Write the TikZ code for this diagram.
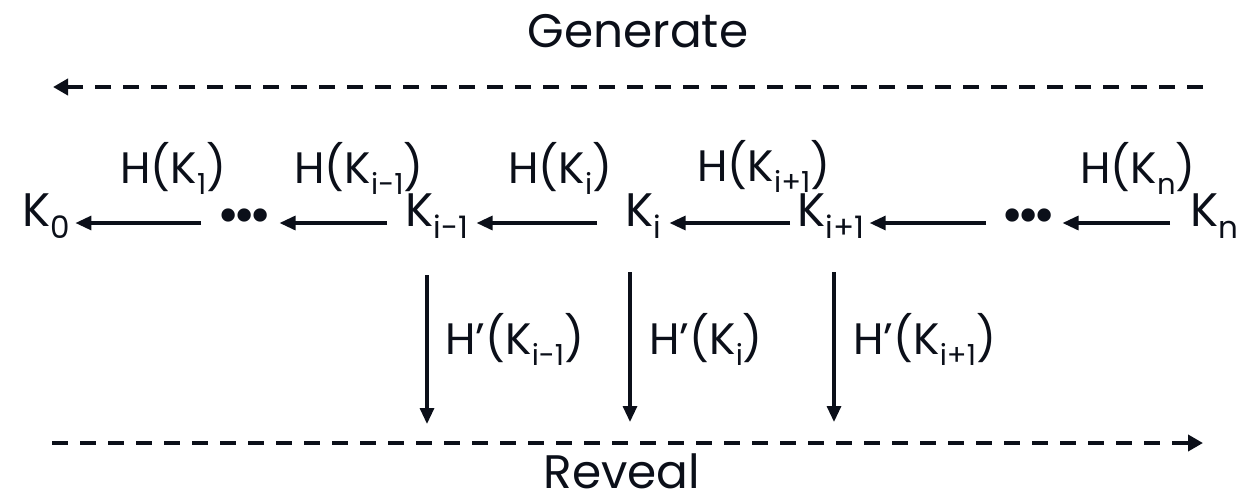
\documentclass[tikz,border=0pt]{standalone}
\usepackage{fontspec}
\setmainfont{Poppins}
\usetikzlibrary{arrows.meta,calc}
\definecolor{ink}{RGB}{11,15,25}
\newcommand{\lowsub}[1]{\raisebox{-6pt}{\fontsize{15.5}{18}\selectfont #1}}
\newcommand{\lsub}[1]{\raisebox{-5.5pt}{\fontsize{14.5}{17}\selectfont #1}}
\newcommand{\dotrow}{{\fontsize{27}{30}\selectfont •\kern-3pt•\kern-3pt•}}
\tikzset{
  txt/.style={inner sep=0pt, anchor=base west, text=ink, font=\fontsize{23.5}{28}\selectfont},
  lbl/.style={inner sep=0pt, anchor=base west, text=ink, font=\fontsize{22}{26}\selectfont},
  title/.style={inner sep=0pt, anchor=base, text=ink, font=\fontsize{23.5}{28}\selectfont},
  arr/.style={draw=ink, line width=1.6pt, -{Triangle[length=8pt,width=7pt]}},
  darr/.style={draw=ink, line width=1.9pt, dash pattern=on 8pt off 6pt, -{Triangle[length=7.5pt,width=8pt]}}
}
\begin{document}
\begin{tikzpicture}[x=0.5pt,y=-0.5pt]
\useasboundingbox (0,0) rectangle (1238,499);
% titles
\node[title] (gen) at (638,47) {Generate};
\node[title] (rev) at (622,488) {Reveal};
\coordinate (g1) at (1203,87);
\coordinate (g2) at (53,87);
\coordinate (r1) at (52,443);
\coordinate (r2) at (1203,443);
\draw[darr] (g1) -- (g2);
\draw[darr] (r1) -- (r2);
% main row
\node[txt] (K0)  at (22,226)  {K\lowsub{0}};
\node[txt] (d1)  at (217,233) {\dotrow};
\node[txt] (Ki1) at (405,226) {K\lowsub{i-1}};
\node[txt] (Ki)  at (625,226) {K\lowsub{i}};
\node[txt] (Kip) at (797,226) {K\lowsub{i+1}};
\node[txt] (d2)  at (1001,233){\dotrow};
\node[txt] (Kn)  at (1190,226){K\lowsub{n}};
\draw[arr] ($(d1.west |- K0.base)+(-16,-3)$) -- ($(K0.base east)+(5,-3)$);
\draw[arr] ($(Ki1.base west)+(-18,-3)$) -- ($(d1.east |- K0.base)+(7,-3)$);
\draw[arr] ($(Ki.base west)+(-28,-3)$) -- ($(Ki1.base east)+(8,-3)$);
\draw[arr] ($(Kip.base west)+(-7,-3)$) -- ($(Ki.base east)+(8,-3)$);
\draw[arr] ($(d2.west |- K0.base)+(-15,-3)$) -- ($(Kip.base east)+(5,-3)$);
\draw[arr] ($(Kn.base west)+(-20,-3)$) -- ($(d2.east |- K0.base)+(6,-3)$);
% labels above
\node[lbl] (h1)  at (120,183)  {H(K\lsub{1})};
\node[lbl] (h2)  at (294,183)  {H(K\lsub{i-1})};
\node[lbl] (h3)  at (508,183)  {H(K\lsub{i})};
\node[lbl] (h4)  at (697,181)  {H(K\lsub{i+1})};
\node[lbl] (h5)  at (1080,183) {H(K\lsub{n})};
% vertical arrows
\coordinate (v1a) at (427,275); \coordinate (v1b) at (427,424);
\coordinate (v2a) at (630,272); \coordinate (v2b) at (630,422);
\coordinate (v3a) at (834,272); \coordinate (v3b) at (834,422);
\draw[arr] (v1a) -- (v1b);
\draw[arr] (v2a) -- (v2b);
\draw[arr] (v3a) -- (v3b);
\node[lbl] (p1) at (445,354) {H’(K\lsub{i-1})};
\node[lbl] (p2) at (649,354) {H’(K\lsub{i})};
\node[lbl] (p3) at (853,354) {H’(K\lsub{i+1})};
\end{tikzpicture}
\end{document}
